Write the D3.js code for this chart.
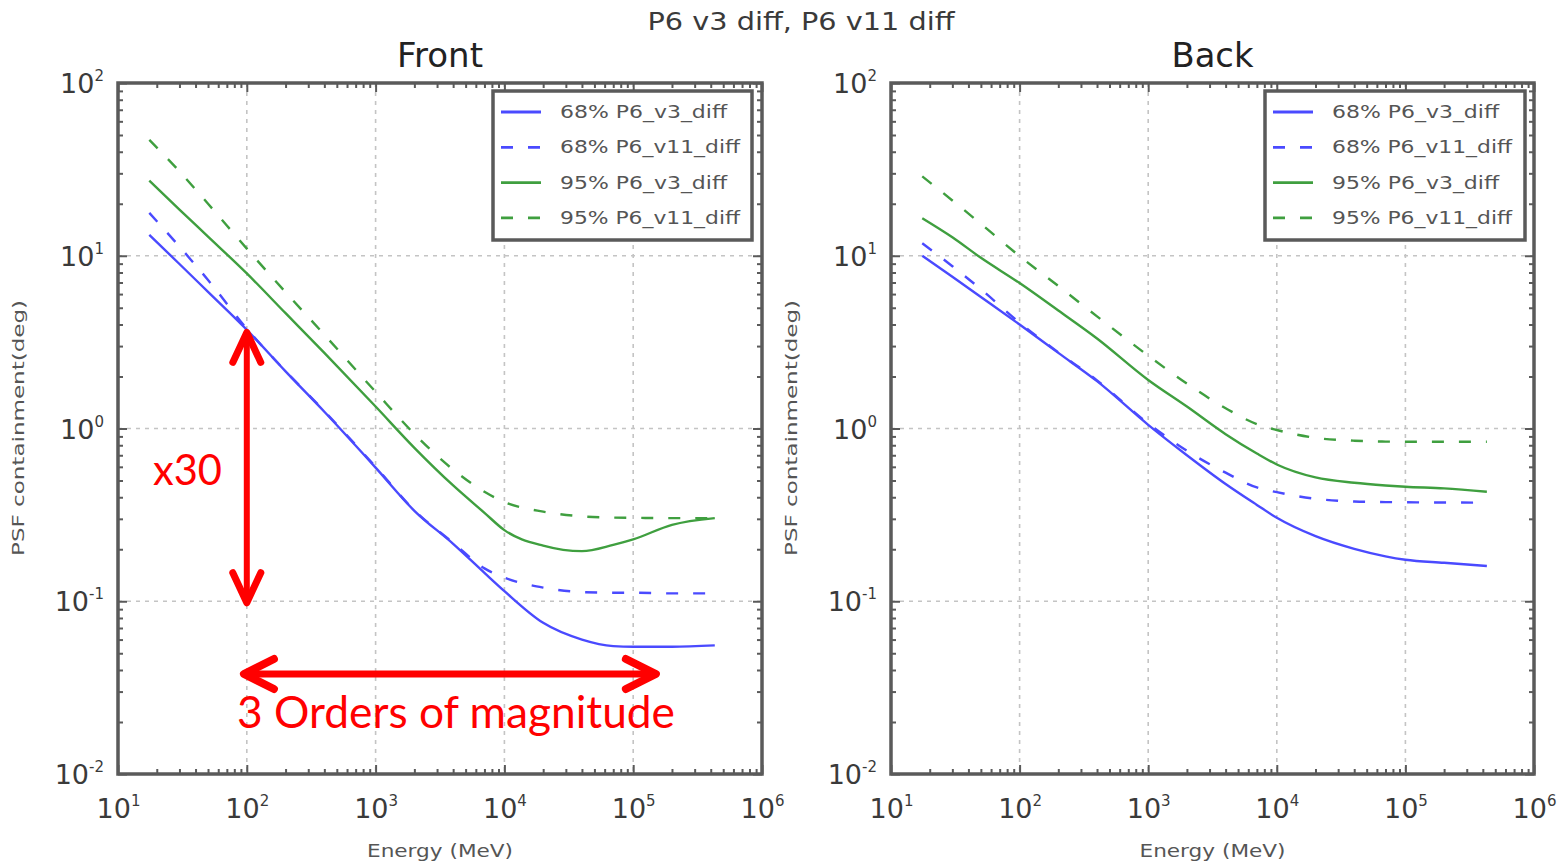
<!DOCTYPE html>
<html><head><meta charset="utf-8">
<script src="https://cdn.jsdelivr.net/npm/d3@7"></script>
<style>body{margin:0;background:#fff}</style>
</head><body>
<svg id="c" width="1561" height="863"></svg>
<script>
// ---- data ----
const energies = [17.5, 30, 50, 100, 200, 400, 1000, 2000, 4000, 7000, 1e4, 2e4, 4e4, 7e4, 1e5, 2e5, 4.3e5];
const front68v3  = [13.2, 8.96, 6.18, 3.73, 2.14, 1.25, 0.594, 0.334, 0.215, 0.146, 0.1145, 0.075, 0.060, 0.055, 0.0545, 0.0545, 0.0555];
const front68v11 = [17.7, 11.3, 7.24, 3.78, 2.15, 1.26, 0.600, 0.336, 0.218, 0.155, 0.137, 0.120, 0.113, 0.112, 0.112, 0.111, 0.111];
const front95v3  = [27.2, 18.5, 12.9, 7.9, 4.65, 2.74, 1.34, 0.773, 0.468, 0.325, 0.258, 0.21, 0.195, 0.212, 0.228, 0.277, 0.303];
const front95v11 = [46.9, 30.8, 20.0, 11.0, 6.15, 3.49, 1.63, 0.93, 0.578, 0.43, 0.375, 0.33, 0.31, 0.305, 0.304, 0.303, 0.303];
const back68v3   = [10.0, 7.55, 5.77, 4.0, 2.74, 1.88, 1.05, 0.70, 0.477, 0.361, 0.304, 0.238, 0.201, 0.182, 0.174, 0.167, 0.160];
const back68v11  = [11.8, 8.7, 6.4, 4.1, 2.76, 1.9, 1.07, 0.743, 0.555, 0.456, 0.428, 0.392, 0.378, 0.375, 0.374, 0.373, 0.372];
const back95v3   = [16.5, 12.8, 9.73, 6.95, 4.82, 3.32, 1.91, 1.34, 0.927, 0.716, 0.619, 0.521, 0.485, 0.468, 0.46, 0.45, 0.43];
const back95v11  = [28.8, 20.9, 15.3, 9.95, 6.68, 4.46, 2.64, 1.82, 1.31, 1.06, 0.98, 0.883, 0.85, 0.84, 0.838, 0.838, 0.838];
const seriesLabels = ["68% P6_v3_diff", "68% P6_v11_diff", "95% P6_v3_diff", "95% P6_v11_diff"];
const panelTitles = ["Front", "Back"];
const xTickExps = [1, 2, 3, 4, 5, 6];
const yTickExps = [-2, -1, 0, 1, 2];
const suptitle = "P6 v3 diff, P6 v11 diff";
const xLabel = "Energy (MeV)";
const yLabel = "PSF containment(deg)";

// ---- styles ----
const BLUE = "#4a4aff", GREEN = "#3f9f3f", FRAME = "#5a5a5a", TXT = "#3a3a3a";
const seriesStyle = [
  {color: BLUE, dash: null}, {color: BLUE, dash: "12,15"},
  {color: GREEN, dash: null}, {color: GREEN, dash: "12,15"}
];
const panels = [
  {title: panelTitles[0], left: 118, right: 762, data: [front68v3, front68v11, front95v3, front95v11], legend: {x: 493, w: 259}},
  {title: panelTitles[1], left: 891, right: 1534, data: [back68v3, back68v11, back95v3, back95v11], legend: {x: 1265, w: 260}}
];
const TOP = 83, BOTTOM = 774;

const svg = d3.select("#c");
svg.append("text").attr("x", 801).attr("y", 30).attr("text-anchor", "middle")
  .attr("font-family", "DejaVu Sans").attr("font-size", 25).attr("fill", TXT)
  .attr("textLength", 307).attr("lengthAdjust", "spacingAndGlyphs").text(suptitle);

const minorVals = (lo, hi) => { const a = []; for (let e = lo; e < hi; e++) for (let m = 2; m < 10; m++) a.push(m * Math.pow(10, e)); return a; };

panels.forEach((p, pi) => {
  const x = d3.scaleLog().domain([1e1, 1e6]).range([p.left, p.right]);
  const y = d3.scaleLog().domain([1e-2, 1e2]).range([BOTTOM, TOP]);
  const g = svg.append("g");
  const W = p.right - p.left, H = BOTTOM - TOP;

  // grid
  const grid = g.append("g").attr("stroke", "#c4c4c4").attr("stroke-width", 1.6).attr("stroke-dasharray", "4,5");
  xTickExps.forEach(e => grid.append("line").attr("x1", x(Math.pow(10, e))).attr("x2", x(Math.pow(10, e))).attr("y1", TOP).attr("y2", BOTTOM));
  yTickExps.forEach(e => grid.append("line").attr("y1", y(Math.pow(10, e))).attr("y2", y(Math.pow(10, e))).attr("x1", p.left).attr("x2", p.right));

  // clip
  const cid = "clip" + pi;
  svg.append("clipPath").attr("id", cid).append("rect").attr("x", p.left).attr("y", TOP).attr("width", W).attr("height", H);

  // lines
  const line = d3.line().x(d => x(d[0])).y(d => y(d[1])).curve(d3.curveMonotoneX);
  p.data.forEach((vals, si) => {
    const pts = energies.map((e, i) => [e, vals[i]]);
    g.append("path").attr("clip-path", `url(#${cid})`).attr("d", line(pts)).attr("fill", "none")
      .attr("stroke", seriesStyle[si].color).attr("stroke-width", 2.4)
      .attr("stroke-dasharray", seriesStyle[si].dash);
  });

  // axes (ticks inward)
  const majX = xTickExps.map(e => Math.pow(10, e)), majY = yTickExps.map(e => Math.pow(10, e));
  const axB = g.append("g").attr("transform", `translate(0,${BOTTOM})`).call(d3.axisBottom(x).tickValues(majX).tickSize(-9).tickPadding(14).tickFormat(() => ""));
  g.append("g").attr("transform", `translate(0,${TOP})`).call(d3.axisTop(x).tickValues(majX).tickSize(-9).tickFormat(() => ""));
  const axL = g.append("g").attr("transform", `translate(${p.left},0)`).call(d3.axisLeft(y).tickValues(majY).tickSize(-9).tickPadding(14).tickFormat(() => ""));
  g.append("g").attr("transform", `translate(${p.right},0)`).call(d3.axisRight(y).tickValues(majY).tickSize(-9).tickFormat(() => ""));
  const mX = minorVals(1, 6), mY = minorVals(-2, 2);
  g.append("g").attr("transform", `translate(0,${BOTTOM})`).call(d3.axisBottom(x).tickValues(mX).tickSize(-5).tickFormat(() => ""));
  g.append("g").attr("transform", `translate(0,${TOP})`).call(d3.axisTop(x).tickValues(mX).tickSize(-5).tickFormat(() => ""));
  g.append("g").attr("transform", `translate(${p.left},0)`).call(d3.axisLeft(y).tickValues(mY).tickSize(-5).tickFormat(() => ""));
  g.append("g").attr("transform", `translate(${p.right},0)`).call(d3.axisRight(y).tickValues(mY).tickSize(-5).tickFormat(() => ""));
  g.selectAll(".domain").remove();
  g.selectAll(".tick line").attr("stroke", FRAME).attr("stroke-width", 2);

  // tick labels with superscripts
  axB.selectAll(".tick text").each(function(d) {
    const t = d3.select(this).text(null).attr("y", 44).attr("dy", null).attr("text-anchor", "middle")
      .attr("font-family", "DejaVu Sans").attr("font-size", 27).attr("fill", TXT);
    t.append("tspan").text("10");
    t.append("tspan").attr("dy", -12).attr("font-size", 15).text(Math.round(Math.log10(d)));
  });
  axL.selectAll(".tick text").each(function(d) {
    const t = d3.select(this).text(null).attr("x", -14).attr("dy", "0.36em").attr("text-anchor", "end")
      .attr("font-family", "DejaVu Sans").attr("font-size", 27).attr("fill", TXT);
    t.append("tspan").text("10");
    t.append("tspan").attr("dy", -12).attr("font-size", 15).text(Math.round(Math.log10(d)));
  });

  // frame
  g.append("rect").attr("x", p.left).attr("y", TOP).attr("width", W).attr("height", H)
    .attr("fill", "none").attr("stroke", FRAME).attr("stroke-width", 3.5);

  // titles
  const cx = (p.left + p.right) / 2;
  g.append("text").attr("x", cx).attr("y", 67).attr("text-anchor", "middle").attr("font-family", "DejaVu Sans")
    .attr("font-size", 33).attr("fill", "#222").attr("textLength", pi === 0 ? 86 : 82).attr("lengthAdjust", "spacingAndGlyphs").text(p.title);
  g.append("text").attr("x", cx).attr("y", 857).attr("text-anchor", "middle").attr("font-family", "DejaVu Sans")
    .attr("font-size", 17).attr("fill", "#555").attr("textLength", 146).attr("lengthAdjust", "spacingAndGlyphs").text(xLabel);
  g.append("text").attr("transform", `translate(${p.left - 94},428) rotate(-90)`).attr("text-anchor", "middle")
    .attr("font-family", "DejaVu Sans").attr("font-size", 16).attr("fill", "#555")
    .attr("textLength", 256).attr("lengthAdjust", "spacingAndGlyphs").text(yLabel);

  // legend
  const L = p.legend;
  g.append("rect").attr("x", L.x).attr("y", 91).attr("width", L.w).attr("height", 149)
    .attr("fill", "#fff").attr("stroke", FRAME).attr("stroke-width", 3.5);
  seriesLabels.forEach((lab, si) => {
    const ly = 112 + si * 35.3;
    g.append("line").attr("x1", L.x + 8).attr("x2", L.x + 48).attr("y1", ly).attr("y2", ly)
      .attr("stroke", seriesStyle[si].color).attr("stroke-width", 2.8).attr("stroke-dasharray", seriesStyle[si].dash);
    g.append("text").attr("x", L.x + 67).attr("y", ly + 6).attr("font-family", "DejaVu Sans").attr("font-size", 17)
      .attr("fill", "#555").attr("textLength", si % 2 ? 180 : 167).attr("lengthAdjust", "spacingAndGlyphs").text(lab);
  });

  // red annotations on the Front panel
  if (pi === 0) {
    const ann = g.append("g").attr("stroke", "#ff0000").attr("fill", "none").attr("stroke-linecap", "round").attr("stroke-linejoin", "round");
    const ax = x(100), yTop = y(3.6), yBot = y(0.098);
    ann.append("line").attr("x1", ax).attr("x2", ax).attr("y1", yTop + 2).attr("y2", yBot - 2).attr("stroke-width", 6);
    ann.append("polyline").attr("points", `${ax - 14},${yTop + 30} ${ax},${yTop} ${ax + 14},${yTop + 30}`).attr("stroke-width", 7);
    ann.append("polyline").attr("points", `${ax - 14},${yBot - 30} ${ax},${yBot} ${ax + 14},${yBot - 30}`).attr("stroke-width", 7);
    const hy = 674, hx1 = x(95), hx2 = x(1.5e5);
    ann.append("line").attr("x1", hx1 + 2).attr("x2", hx2 - 2).attr("y1", hy).attr("y2", hy).attr("stroke-width", 7);
    ann.append("polyline").attr("points", `${hx1 + 30},${hy - 15} ${hx1},${hy} ${hx1 + 30},${hy + 15}`).attr("stroke-width", 8);
    ann.append("polyline").attr("points", `${hx2 - 30},${hy - 15} ${hx2},${hy} ${hx2 - 30},${hy + 15}`).attr("stroke-width", 8);
    g.append("text").attr("x", 153).attr("y", 485).attr("font-family", "Lato").attr("font-size", 42)
      .attr("fill", "#ff0000").attr("textLength", 69).attr("lengthAdjust", "spacingAndGlyphs").text("x30");
    g.append("text").attr("x", 237).attr("y", 728).attr("font-family", "Lato").attr("font-size", 45)
      .attr("fill", "#ff0000").attr("textLength", 438).attr("lengthAdjust", "spacingAndGlyphs").text("3 Orders of magnitude");
  }
});
</script>
</body></html>
